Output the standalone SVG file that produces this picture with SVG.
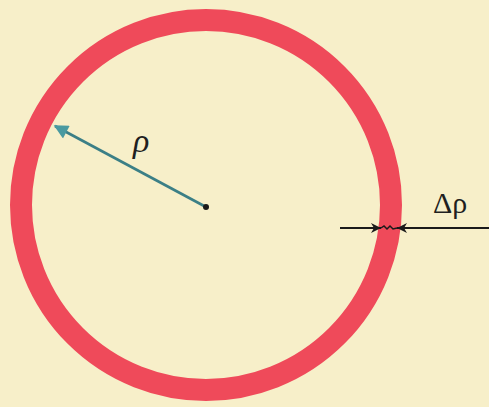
<svg xmlns="http://www.w3.org/2000/svg" width="489" height="407" viewBox="0 0 489 407">
<defs>
<marker id="tealhead" viewBox="0 0 10 10" refX="9" refY="5" markerWidth="6" markerHeight="5.5" orient="auto" markerUnits="strokeWidth">
<path d="M0,0 L10,5 L0,10 Z" fill="#4a9aa0"/>
</marker>
<marker id="blkhead" viewBox="0 0 10 10" refX="10" refY="5" markerWidth="7" markerHeight="5" orient="auto" markerUnits="strokeWidth">
<path d="M0,0 L10,5 L0,10 L3,5 Z" fill="#1a1a1a"/>
</marker>
<style>
.lbl{font-family:"Liberation Serif","DejaVu Serif",serif;fill:#1f1f1f}
</style>
</defs>
<rect width="489" height="407" fill="#f7efc9"/>
<g id="ring">
<circle cx="206" cy="205" r="185" fill="none" stroke="#ef4a5a" stroke-width="22"/>
</g>
<g id="connectors">
<line x1="206" y1="207" x2="55" y2="126" stroke="#3b7f86" stroke-width="2.6" marker-end="url(#tealhead)"/>
<circle cx="206" cy="207" r="3" fill="#1a1a1a"/>
<line x1="340" y1="228" x2="381" y2="228" stroke="#1a1a1a" stroke-width="2" marker-end="url(#blkhead)"/>
<line x1="489" y1="228" x2="397" y2="228" stroke="#1a1a1a" stroke-width="2" marker-end="url(#blkhead)"/>
<path d="M381,228 l3,-2 l3,3 l3,-3 l3,3 l4,-1" fill="none" stroke="#1a1a1a" stroke-width="1.5"/>
</g>
<g id="labels">
<text class="lbl" x="133" y="152" font-size="34" style="font-style:italic">ρ</text>
<text class="lbl" x="433" y="213" font-size="30">Δρ</text>
</g>
</svg>
